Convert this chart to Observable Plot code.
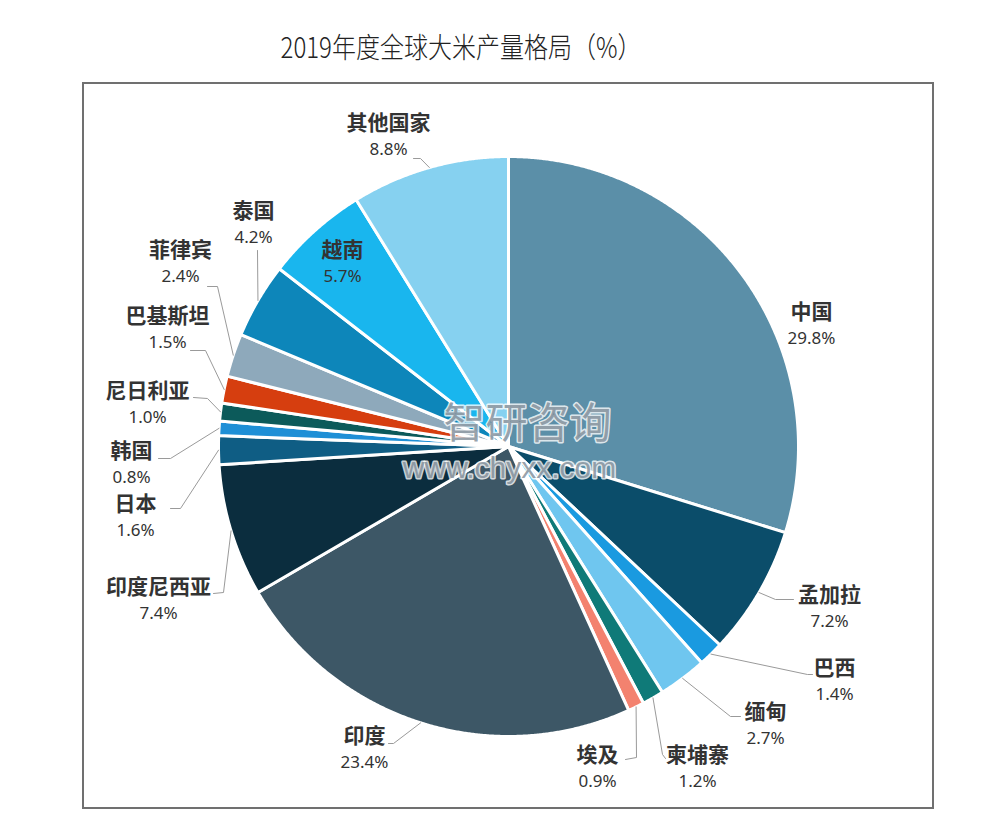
<!DOCTYPE html>
<html><head><meta charset="utf-8">
<script src="https://cdn.jsdelivr.net/npm/d3@7"></script>
<script src="https://cdn.jsdelivr.net/npm/@observablehq/plot@0.6"></script>
<style>
body{margin:0;background:#fff;}
#wrap{position:relative;width:1000px;height:837px;overflow:hidden;background:#fff;}
#title{position:absolute;left:0;width:922px;top:27px;text-align:center;font:300 24px "Noto Sans CJK SC",sans-serif;color:#222;transform:scaleY(1.2);line-height:38px;}
#frame{position:absolute;left:82px;top:82px;width:852px;height:727px;border:2px solid #707070;box-sizing:border-box;}
#chart{position:absolute;left:0;top:0;}
</style></head><body>
<div id="wrap"><div id="title">2019年度全球大米产量格局（%）</div><div id="frame"></div><div id="chart"></div></div>
<script>
// ---- data ----
const countries = ["中国","孟加拉","巴西","缅甸","柬埔寨","埃及","印度","印度尼西亚","日本","韩国","尼日利亚","巴基斯坦","菲律宾","泰国","越南","其他国家"];
const shares = [29.8,7.2,1.4,2.7,1.2,0.9,23.4,7.4,1.6,0.8,1.0,1.5,2.4,4.2,5.7,8.8];
const colors = ["#5b8fa8","#0b4d6a","#1a9ae0","#6fc6ef","#0f7a78","#f3826f","#3d5766","#0b2d3e","#0f5d84","#1e8fd6","#0c5a5a","#d63e0f","#8ea9bb","#0d86ba","#19b6ee","#86d1f0"];
const watermark = ["智研咨询","www.chyxx.com"];

// ---- layout (offsets from pie centre, px) ----
const R = 290, cx = 508, cy = 446;
const labelPos = [[303,-134],[321,149],[326,222],[257,266],[189,309],[89,309],[-144,290],[-350,141],[-373,58],[-377,5],[-361,-55],[-341,-130],[-328,-196],[-255,-235],[-166,-196],[-120,-323]];
const leaderBends = [[],[[267,153],[285,153]],[[299,228],[304,228]],[[222,270],[232,270]],[[154,308],[157,312]],[[128,311],[117,313]],[[-115,297],[-120,297]],[[-285,146],[-295,147]],[[-328,62],[-338,62]],[[-338,12],[-350,12]],[[-301,-48],[-315,-49]],[[-303,-96],[-318,-96]],[[-291,-160],[-301,-160]],[[-251,-196]],[],[[-88,-288],[-95,-288]]];
const wmPos = [[19,-22],[1,22]];

const total = d3.sum(shares);
let cum = 0;
const slices = countries.map((c, i) => {
  const a0 = cum / total * 2 * Math.PI; cum += shares[i];
  const a1 = cum / total * 2 * Math.PI;
  return {name: c, share: shares[i], a0, a1, mid: (a0 + a1) / 2};
});
const slicePts = slices.flatMap(s => {
  const pts = [{name: s.name, x: 0, y: 0}];
  const n = Math.max(2, Math.ceil((s.a1 - s.a0) / (Math.PI / 720)));
  for (let k = 0; k <= n; k++) {
    const a = s.a0 + (s.a1 - s.a0) * k / n;
    pts.push({name: s.name, x: R * Math.sin(a), y: -R * Math.cos(a)});
  }
  return pts;
});
const leaderPts = slices.flatMap((s, i) => {
  if (!leaderBends[i].length) return [];
  return [{name: s.name, x: R * Math.sin(s.mid), y: -R * Math.cos(s.mid)},
    ...leaderBends[i].map(([x, y]) => ({name: s.name, x, y}))];
});
const labels = slices.map((s, i) => ({name: s.name, pct: s.share.toFixed(1) + "%", x: labelPos[i][0], y: labelPos[i][1]}));
const wm = watermark.map((t, i) => ({t, x: wmPos[i][0], y: wmPos[i][1]}));

const chart = Plot.plot({
  width: 1000, height: 837, margin: 0,
  style: {background: "transparent"},
  x: {domain: [-R, R], range: [cx - R, cx + R], axis: null},
  y: {domain: [-R, R], range: [cy - R, cy + R], axis: null},
  color: {domain: countries, range: colors},
  marks: [
    Plot.line(slicePts, {x: "x", y: "y", z: "name", fill: "name", stroke: "white", strokeWidth: 3, curve: "linear-closed"}),
    Plot.line(leaderPts, {x: "x", y: "y", z: "name", stroke: "#9a9a9a", strokeWidth: 1}),
    Plot.text(wm.slice(0, 1), {x: "x", y: "y", text: "t", fontSize: 42, fontFamily: "Noto Sans CJK SC", fill: "#7d8a96", fillOpacity: 0.8, stroke: "white", strokeWidth: 3, strokeOpacity: 0.8}),
    Plot.text(wm.slice(1), {x: "x", y: "y", text: "t", fontSize: 30, fontFamily: "Liberation Sans", fill: "#7d8a96", fillOpacity: 0.8, stroke: "white", strokeWidth: 3, strokeOpacity: 0.8}),
    Plot.text(labels, {x: "x", y: "y", text: "name", fontSize: 21, fontWeight: "bold", fontFamily: "Noto Sans CJK SC", fill: "#333"}),
    Plot.text(labels, {x: "x", y: d => d.y + 26, text: "pct", fontSize: 17, fontFamily: "Noto Sans", fill: "#333"})
  ]
});
document.getElementById("chart").append(chart);
</script>
</body></html>
